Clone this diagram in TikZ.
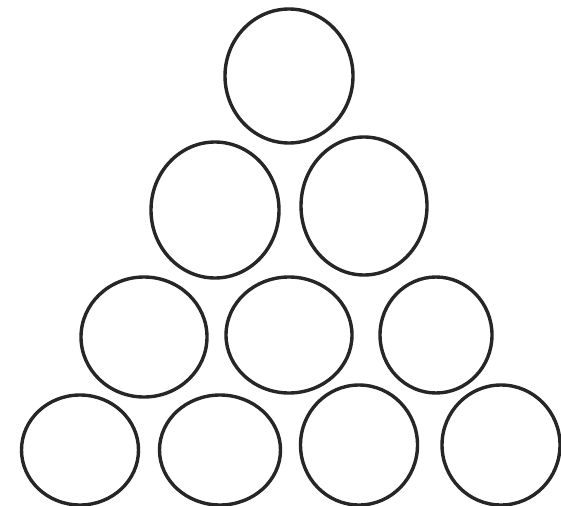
\documentclass[tikz,border=0pt]{standalone}
\usetikzlibrary{shapes.geometric}
\definecolor{ink}{HTML}{262626}
\tikzset{ball/.style={ellipse,draw=ink,line width=3.4pt,inner sep=0pt,fill=white}}
\begin{document}
\begin{tikzpicture}[x=1pt,y=-1pt]
\useasboundingbox (0,0) rectangle (561,505);
\fill[white] (0,0) rectangle (561,505);
\node[ball,minimum width=128pt,minimum height=134pt] (a1) at (289,76) {};
\node[ball,minimum width=128pt,minimum height=136pt] (b1) at (215,210) {};
\node[ball,minimum width=126pt,minimum height=138pt] (b2) at (364,206) {};
\node[ball,minimum width=126pt,minimum height=120pt] (c1) at (144,337) {};
\node[ball,minimum width=126pt,minimum height=116pt] (c2) at (289,335) {};
\node[ball,minimum width=112pt,minimum height=116pt] (c3) at (436,335) {};
\node[ball,minimum width=117pt,minimum height=110pt] (d1) at (80,450) {};
\node[ball,minimum width=121pt,minimum height=110pt] (d2) at (220,450) {};
\node[ball,minimum width=117pt,minimum height=120pt] (d3) at (359,445) {};
\node[ball,minimum width=118pt,minimum height=120pt] (d4) at (501,445) {};
\end{tikzpicture}
\end{document}
